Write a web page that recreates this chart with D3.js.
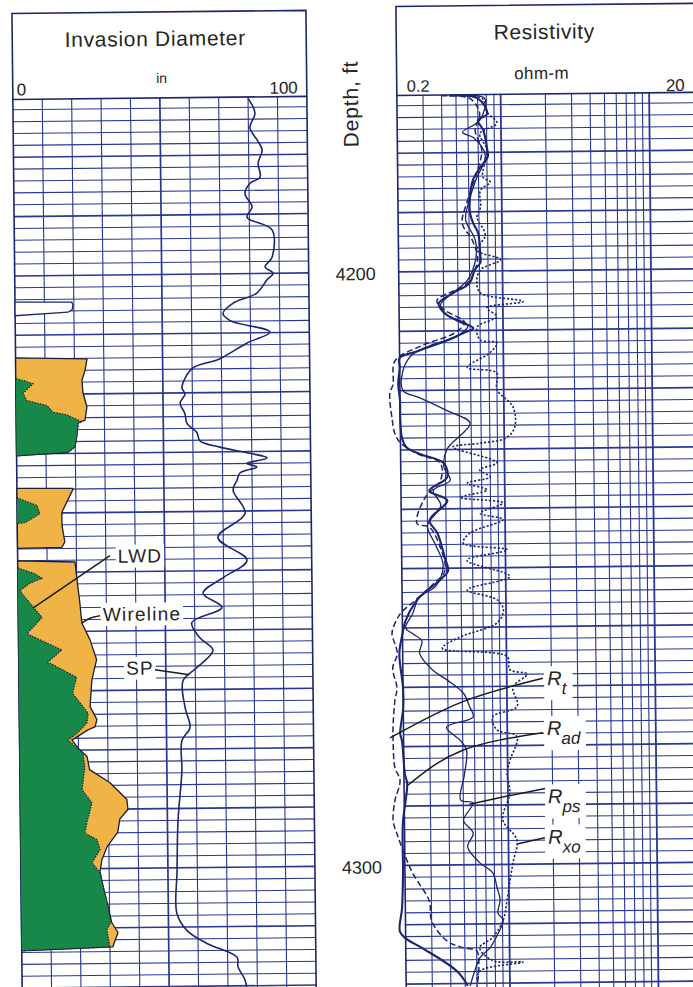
<!DOCTYPE html>
<html>
<head>
<meta charset="utf-8">
<script src="https://cdn.jsdelivr.net/npm/d3@7"></script>
<style>
  html, body { margin: 0; padding: 0; background: #fff; }
  svg { display: block; }
  text { font-family: "Liberation Sans", Arial, Helvetica, sans-serif; }
</style>
</head>
<body>
<svg id="log" width="693" height="987"></svg>
<script>
// ---------------- Data ----------------
// Grid lines of each track
const invasionGrid = [0, 10, 20, 30, 40, 50, 60, 70, 80, 90, 100];
const resistivityGrid = [0.2, 0.3, 0.4, 0.5, 0.6, 0.7, 0.8, 0.9, 1, 2, 3, 4, 5, 6, 7, 8, 9, 10];
const depthLabels = [4200, 4300];

// SP curve, drawn on the invasion track scale: [depth ft, track units]
const spCurve = [[4170.5,80.0],[4173.0,82.3],[4175.4,80.5],[4177.5,82.9],[4179.2,84.6],[4181.4,83.2],[4183.8,83.8],[4184.8,80.4],[4186.5,78.6],[4188.8,81.0],[4190.5,79.2],[4192.7,87.7],[4197.3,87.6],[4198.9,85.2],[4200.0,87.9],[4201.1,85.8],[4203.3,82.3],[4205.0,74.1],[4206.7,70.7],[4207.9,73.1],[4209.9,86.6],[4211.7,78.8],[4214.3,69.5],[4215.8,60.3],[4217.5,57.6],[4219.2,56.5],[4220.2,57.5],[4221.7,55.8],[4223.5,57.4],[4225.2,58.1],[4226.7,61.4],[4228.1,62.4],[4229.2,69.2],[4230.3,79.4],[4231.1,85.2],[4232.0,78.3],[4232.6,81.7],[4233.6,75.9],[4234.8,74.9],[4236.5,73.5],[4240.4,77.5],[4244.4,68.2],[4248.3,78.0],[4251.2,69.8],[4253.8,62.9],[4256.2,69.3],[4258.7,59.0],[4261.3,61.7],[4263.4,66.1],[4266.3,60.6],[4268.5,55.8],[4273.0,56.4],[4276.4,58.0],[4278.6,55.2],[4283.7,55.1],[4292.1,53.6],[4300.5,53.1],[4307.7,52.9],[4310.6,56.3],[4312.8,63.0],[4315.2,73.2],[4316.8,73.5],[4319.0,75.8],[4320.7,76.5]];

// Wireline invasion diameter, one array per invaded zone: [depth ft, in]
const wirelineSliver = [[4204.4,0],[4204.5,19.3],[4205.0,19.7],[4205.8,19.4],[4206.2,18.0],[4206.7,0]];
const wirelineZone1 = [[4213.8,0],[4214.1,24.3],[4216.0,23.6],[4217.7,22.5],[4219.8,22.8],[4222.2,24.1],[4224.4,23.4],[4224.9,21.0],[4226.9,20.6],[4228.9,19.9],[4229.8,17.5],[4230.3,0]];
const wirelineZone2 = [[4235.8,0],[4235.9,19.0],[4236.1,19.0],[4239.9,15.2],[4242.1,15.2],[4244.9,16.1],[4245.8,15.1],[4245.9,0]];
const wirelineZone3 = [[4248.0,0],[4248.3,19.5],[4251.3,20.1],[4255.2,21.0],[4258.6,21.6],[4261.4,24.3],[4264.8,26.5],[4268.2,24.8],[4272.7,24.1],[4274.9,26.4],[4276.1,25.7],[4276.6,23.3],[4278.3,17.8],[4280.0,20.5],[4281.1,22.9],[4283.3,23.7],[4285.5,30.5],[4288.4,36.3],[4290.1,36.6],[4291.7,33.8],[4293.9,33.1],[4296.3,29.4],[4298.5,27.6],[4300.5,26.9],[4303.0,27.9],[4306.4,29.5],[4309.1,30.7],[4310.8,32.8],[4313.2,31.0],[4313.7,0]];

// LWD invasion diameter: [depth ft, in]
const lwdZone1 = [[4217.3,0],[4217.7,3.1],[4218.2,5.8],[4219.8,2.4],[4221.0,3.7],[4221.9,10.5],[4223.0,12.5],[4223.5,17.3],[4224.7,22.3],[4224.9,21.0],[4226.9,20.6],[4228.9,19.9],[4229.8,17.5],[4230.3,0]];
const lwdZone2 = [[4237.4,0],[4238.7,6.8],[4240.1,7.7],[4241.6,2.6],[4241.7,0]];
const lwdZone3 = [[4249.2,0],[4250.2,5.8],[4251.0,8.2],[4251.8,4.1],[4253.0,0.7],[4253.5,1.3],[4257.6,8.1],[4260.3,2.9],[4263.1,14.7],[4265.1,9.9],[4267.7,19.6],[4270.4,18.2],[4273.8,23.4],[4275.4,23.0],[4277.0,20.0],[4278.3,16.5],[4280.5,21.5],[4282.9,22.1],[4286.7,21.1],[4288.9,24.4],[4292.3,22.6],[4294.0,21.9],[4295.1,26.0],[4296.8,27.0],[4299.0,24.2],[4300.7,26.9],[4303.0,27.9],[4306.4,29.5],[4309.1,30.4],[4310.3,29.0],[4313.2,30.0],[4313.7,0]];

// Resistivity curves: [depth ft, ohm-m]
const rtCurve = [[4170.4,0.40],[4170.9,0.62],[4173.4,0.72],[4176.3,0.67],[4179.6,0.74],[4183.0,0.69],[4188.0,0.59],[4191.9,0.54],[4194.8,0.63],[4198.1,0.68],[4202.0,0.58],[4204.9,0.36],[4206.6,0.41],[4208.6,0.55],[4210.4,0.47],[4212.5,0.28],[4215.0,0.186],[4218.9,0.18],[4220.5,0.171],[4224.6,0.176],[4227.3,0.184],[4228.8,0.20],[4230.7,0.26],[4232.3,0.37],[4235.2,0.37],[4238.1,0.29],[4242.4,0.255],[4243.1,0.31],[4246.1,0.36],[4250.4,0.39],[4252.9,0.317],[4255.4,0.244],[4257.6,0.194],[4260.0,0.173],[4261.0,0.17],[4264.3,0.184],[4266.7,0.171],[4270.1,0.182],[4272.2,0.176],[4276.8,0.170],[4279.0,0.17],[4283.5,0.174],[4285.7,0.188],[4289.1,0.173],[4292.5,0.168],[4294.7,0.178],[4297.5,0.195],[4301.4,0.226],[4306.0,0.29],[4309.4,0.30],[4312.8,0.38],[4314.0,0.49],[4314.5,0.60],[4317.0,0.62],[4320.5,0.60]];
const radCurve = [[4170.4,0.45],[4170.9,0.70],[4173.5,0.81],[4174.6,0.70],[4176.3,0.76],[4179.1,0.80],[4180.8,0.81],[4182.5,0.72],[4184.7,0.64],[4188.0,0.61],[4190.2,0.61],[4191.9,0.64],[4193.6,0.69],[4197.0,0.71],[4198.6,0.71],[4199.8,0.65],[4202.0,0.60],[4203.7,0.46],[4205.4,0.37],[4206.9,0.40],[4208.3,0.49],[4209.6,0.63],[4210.4,0.54],[4211.6,0.42],[4213.3,0.27],[4214.5,0.20],[4216.2,0.20],[4218.9,0.195],[4221.7,0.20],[4224.6,0.20],[4228.0,0.205],[4229.6,0.22],[4230.7,0.27],[4232.3,0.39],[4234.7,0.41],[4236.9,0.31],[4238.6,0.41],[4241.9,0.31],[4244.1,0.35],[4248.2,0.39],[4250.4,0.41],[4252.0,0.36],[4254.2,0.28],[4255.4,0.25],[4258.8,0.21],[4261.0,0.20],[4264.3,0.19],[4270.1,0.20],[4273.4,0.20],[4277.8,0.19],[4279.0,0.195],[4284.6,0.203],[4286.2,0.21],[4293.0,0.195],[4301.4,0.194],[4307.2,0.19],[4311.1,0.183],[4312.3,0.20],[4314.0,0.26],[4317.9,0.44],[4320.4,0.52]];
const rpsCurve = [[4170.4,0.50],[4170.9,0.78],[4174.6,0.72],[4176.6,0.55],[4177.5,0.65],[4180.5,0.78],[4184.7,0.67],[4188.9,0.59],[4191.4,0.57],[4194.8,0.66],[4198.1,0.66],[4201.5,0.58],[4204.0,0.44],[4205.7,0.38],[4207.4,0.42],[4209.1,0.58],[4210.8,0.50],[4212.5,0.32],[4214.1,0.24],[4216.7,0.21],[4220.0,0.21],[4221.2,0.27],[4223.4,0.41],[4225.6,0.59],[4228.8,0.45],[4230.0,0.41],[4232.9,0.39],[4235.2,0.43],[4236.9,0.33],[4239.4,0.37],[4242.8,0.30],[4246.1,0.34],[4249.5,0.38],[4252.9,0.34],[4254.9,0.26],[4257.6,0.235],[4260.0,0.21],[4261.0,0.235],[4262.2,0.27],[4264.3,0.26],[4267.2,0.32],[4268.9,0.40],[4271.1,0.51],[4273.4,0.56],[4275.1,0.59],[4276.8,0.39],[4279.0,0.48],[4280.7,0.53],[4284.9,0.51],[4289.1,0.48],[4289.6,0.58],[4292.5,0.50],[4294.7,0.58],[4297.0,0.53],[4299.7,0.64],[4301.4,0.78],[4303.8,0.83],[4306.0,0.87],[4308.2,0.84],[4309.4,0.91],[4311.6,0.84],[4314.0,0.74],[4315.7,0.63],[4317.9,0.58],[4320.4,0.54]];
const rxoCurve = [[4170.4,0.55],[4170.9,0.75],[4173.3,0.81],[4175.1,0.94],[4176.8,0.72],[4179.6,0.80],[4184.2,0.75],[4185.0,0.84],[4186.4,0.72],[4189.2,0.72],[4190.9,0.68],[4193.9,0.77],[4196.5,0.68],[4198.1,0.97],[4199.8,0.71],[4202.0,0.67],[4203.7,0.71],[4205.2,1.37],[4206.2,0.78],[4207.7,0.91],[4209.4,0.67],[4211.6,0.70],[4212.1,0.91],[4213.8,0.81],[4216.2,0.57],[4217.2,0.90],[4220.0,0.90],[4222.9,1.15],[4226.3,1.18],[4228.1,1.04],[4229.0,0.69],[4229.6,0.45],[4232.3,0.89],[4233.5,0.68],[4234.7,0.80],[4235.7,0.56],[4236.9,0.76],[4238.1,0.50],[4239.1,0.97],[4240.8,0.68],[4241.9,0.97],[4244.1,0.58],[4245.8,0.52],[4247.0,1.03],[4248.7,0.55],[4251.5,1.07],[4253.7,0.55],[4255.4,0.87],[4257.1,0.96],[4259.3,0.87],[4261.6,0.49],[4263.5,0.37],[4265.0,1.01],[4267.2,1.05],[4268.0,1.37],[4270.1,1.10],[4273.4,1.17],[4275.1,0.80],[4277.3,0.85],[4278.5,1.16],[4282.4,1.04],[4284.6,0.99],[4287.9,1.03],[4292.5,0.92],[4295.9,1.14],[4299.7,1.07],[4302.6,1.02],[4306.0,0.97],[4309.4,0.91],[4312.3,0.77],[4314.0,0.63],[4316.2,0.77],[4316.5,1.23],[4317.9,0.63],[4319.6,0.60]];

// Callouts in data units: label anchor and leader points
const invasionCallouts = [
  { text: "LWD",      depth: 4247.4, value: 41.6, leader: [[4247.3,31.4],[4256.0,5.0]] },
  { text: "Wireline", depth: 4257.2, value: 42.1, leader: [[4257.4,27.8],[4257.8,24.4],[4258.6,21.6]] },
  { text: "SP",       depth: 4266.3, value: 41.2, leader: [[4266.6,46.3],[4267.5,58.0]] }
];
const resistivityCallouts = [
  { main: "R", sub: "t",  depth: 4269.9, ohm: 1.87, leader: [[4268.7,1.75],[4272.5,0.505],[4278.5,0.162]] },
  { main: "R", sub: "ad", depth: 4278.3, ohm: 1.85, leader: [[4277.9,1.74],[4280.7,0.50],[4286.5,0.212]] },
  { main: "R", sub: "ps", depth: 4289.8, ohm: 1.86, leader: [[4287.3,1.78],[4288.5,0.99],[4289.8,0.55]] },
  { main: "R", sub: "xo", depth: 4296.6, ohm: 1.85, leader: [[4295.6,1.76],[4296.6,1.14]] }
];

// ---------------- Layout ----------------
const W = 693, H = 987;
const TOP = 96, BOTTOM = 1002;
const GRID = "#2b3891", INK = "#1c2570", TEXT = "#262626";
const ORANGE = "#efb445", GREEN = "#17884a", OUTLINE = "#1d1d33";

const svg = d3.select("#log");
svg.append("rect").attr("width", W).attr("height", H).attr("fill", "#fff");
// the printed log sits slightly askew on the page
const g = svg.append("g").attr("transform", "rotate(-0.6,346,493)");

const y = d3.scaleLinear().domain([4200, 4300]).range([272.5, 866]);
const xInv = d3.scaleLinear().domain([0, 100]).range([17, 311]);
const xRes = d3.scaleLog().domain([0.2, 20]).range([401, 698]);
const RIGHT_END = 712;

const depthGrid = d3.range(4172, 4324, 2).filter(d => y(d) > TOP + 2);

// ---------------- Grids ----------------
const grid = g.append("g").attr("stroke", GRID).attr("fill", "none");
grid.selectAll("line.lh").data(depthGrid).join("line").attr("class", "lh")
  .attr("x1", xInv(0)).attr("x2", xInv(100))
  .attr("y1", d => y(d)).attr("y2", d => y(d))
  .attr("stroke-width", d => d % 10 === 0 ? 1.6 : 1.05);
grid.selectAll("line.lv").data(invasionGrid.slice(1, -1)).join("line").attr("class", "lv")
  .attr("x1", d => xInv(d)).attr("x2", d => xInv(d))
  .attr("y1", TOP).attr("y2", BOTTOM)
  .attr("stroke-width", d => d === 50 ? 1.7 : 1.1);
grid.selectAll("line.rh").data(depthGrid).join("line").attr("class", "rh")
  .attr("x1", xRes(0.2)).attr("x2", RIGHT_END)
  .attr("y1", d => y(d)).attr("y2", d => y(d))
  .attr("stroke-width", d => d % 10 === 0 ? 1.7 : 1.05);
grid.selectAll("line.rv").data(resistivityGrid.slice(1)).join("line").attr("class", "rv")
  .attr("x1", d => xRes(d)).attr("x2", d => xRes(d))
  .attr("y1", TOP).attr("y2", BOTTOM)
  .attr("stroke-width", d => (d === 1 || d === 10) ? 1.8 : 1.1);

// Track frames and header rules
const frame = g.append("g").attr("stroke", INK).attr("fill", "none").attr("stroke-width", 1.6);
frame.append("path").attr("d", `M${xInv(0)},${BOTTOM}V10H${xInv(100)}V${BOTTOM}`);
frame.append("path").attr("d", `M${xInv(0)},${TOP}H${xInv(100)}`);
frame.append("path").attr("d", `M${xRes(0.2)},${BOTTOM}V7H${RIGHT_END}`);
frame.append("path").attr("d", `M${xRes(0.2)},${TOP}H${RIGHT_END}`);

// ---------------- Invasion fills ----------------
const invArea = d3.area().y(d => y(d[0])).x0(xInv(0)).x1(d => xInv(d[1]));
const fills = g.append("g");
[wirelineZone1, wirelineZone2, wirelineZone3].forEach(z => {
  fills.append("path").attr("d", invArea(z)).attr("fill", ORANGE)
    .attr("stroke", OUTLINE).attr("stroke-width", 1.3).attr("stroke-linejoin", "round");
});
fills.append("path").attr("d", invArea(wirelineSliver)).attr("fill", "#fff")
  .attr("stroke", INK).attr("stroke-width", 1.3);
[lwdZone1, lwdZone2, lwdZone3].forEach(z => {
  fills.append("path").attr("d", invArea(z)).attr("fill", GREEN).attr("stroke", "none");
  // dotted LWD boundary along the green edge
  const edge = d3.line().y(d => y(d[0])).x(d => xInv(d[1]));
  fills.append("path").attr("d", edge(z)).attr("fill", "none")
    .attr("stroke", OUTLINE).attr("stroke-width", 1.2).attr("stroke-dasharray", "1.4,1.4");
});

// ---------------- Curves ----------------
const spLine = d3.line().y(d => y(d[0])).x(d => xInv(d[1])).curve(d3.curveCatmullRom.alpha(0.5));
g.append("path").attr("d", spLine(spCurve)).attr("fill", "none")
  .attr("stroke", INK).attr("stroke-width", 1.6);

const resLine = d3.line().y(d => y(d[0])).x(d => xRes(d[1])).curve(d3.curveCatmullRom.alpha(0.5));
const curves = g.append("g").attr("fill", "none").attr("stroke", INK).attr("stroke-linejoin", "round");
curves.append("path").attr("d", resLine(rtCurve)).attr("stroke-width", 1.5).attr("stroke-dasharray", "6,3");
curves.append("path").attr("d", resLine(rpsCurve)).attr("stroke-width", 1.3);
curves.append("path").attr("d", resLine(rxoCurve)).attr("stroke-width", 1.6).attr("stroke-dasharray", "2.2,1.8");
curves.append("path").attr("d", resLine(radCurve)).attr("stroke-width", 2.1);

// ---------------- Header text ----------------
const hdr = g.append("g").attr("fill", TEXT);
hdr.append("text").attr("x", 160).attr("y", 44).attr("text-anchor", "middle")
  .attr("font-size", 21).attr("letter-spacing", 0.7).text("Invasion Diameter");
hdr.append("text").attr("x", 166).attr("y", 81).attr("text-anchor", "middle")
  .attr("font-size", 14).text("in");
hdr.append("text").attr("x", 21).attr("y", 92).attr("font-size", 17).text(invasionGrid[0]);
hdr.append("text").attr("x", 302).attr("y", 93).attr("text-anchor", "end")
  .attr("font-size", 17).text(invasionGrid[invasionGrid.length - 1]);
hdr.append("text").attr("x", 549).attr("y", 41).attr("text-anchor", "middle")
  .attr("font-size", 21).attr("letter-spacing", 0.6).text("Resistivity");
hdr.append("text").attr("x", 546).attr("y", 81).attr("text-anchor", "middle")
  .attr("font-size", 17).attr("letter-spacing", 0.4).text("ohm-m");
hdr.append("text").attr("x", 411).attr("y", 92.5).attr("font-size", 16.5).text("0.2");
hdr.append("text").attr("x", 689).attr("y", 94.5).attr("text-anchor", "end")
  .attr("font-size", 17).text("20");
hdr.append("text").attr("transform", "translate(362,104) rotate(-90)")
  .attr("text-anchor", "middle").attr("font-size", 21).attr("letter-spacing", 0.8).text("Depth, ft");
hdr.selectAll("text.depth").data(depthLabels).join("text").attr("class", "depth")
  .attr("x", 358).attr("y", d => y(d) + 7.8).attr("text-anchor", "middle")
  .attr("font-size", 18).text(d => d);

// ---------------- Callouts ----------------
const leaderInv = d3.line().y(d => y(d[0])).x(d => xInv(d[1])).curve(d3.curveNatural);
const leaderRes = d3.line().y(d => y(d[0])).x(d => xRes(d[1])).curve(d3.curveNatural);
const call = g.append("g");

invasionCallouts.forEach(c => {
  const t = call.append("text").attr("x", xInv(c.value)).attr("y", y(c.depth) + 6.5)
    .attr("text-anchor", "middle").attr("font-size", 19).attr("letter-spacing", 1.2)
    .attr("fill", TEXT).text(c.text);
  const b = t.node().getBBox();
  call.insert("rect", () => t.node())
    .attr("x", b.x - 2).attr("y", b.y - 1).attr("width", b.width + 4).attr("height", b.height + 2)
    .attr("fill", "#fff");
  call.append("path").attr("d", leaderInv(c.leader)).attr("fill", "none")
    .attr("stroke", "#1a1a1a").attr("stroke-width", 1.5);
});

resistivityCallouts.forEach(c => {
  const t = call.append("text").attr("x", xRes(c.ohm)).attr("y", y(c.depth))
    .attr("font-size", 20).attr("font-style", "italic").attr("fill", TEXT);
  t.append("tspan").text(c.main);
  t.append("tspan").attr("dy", 9).attr("font-size", 17).text(c.sub);
  const b = t.node().getBBox();
  call.insert("rect", () => t.node())
    .attr("x", b.x - 3).attr("y", b.y - 1).attr("width", b.width + 8).attr("height", b.height + 3)
    .attr("fill", "#fff");
  call.append("path").attr("d", leaderRes(c.leader)).attr("fill", "none")
    .attr("stroke", "#1a1a1a").attr("stroke-width", 1.5);
});
</script>
</body>
</html>
